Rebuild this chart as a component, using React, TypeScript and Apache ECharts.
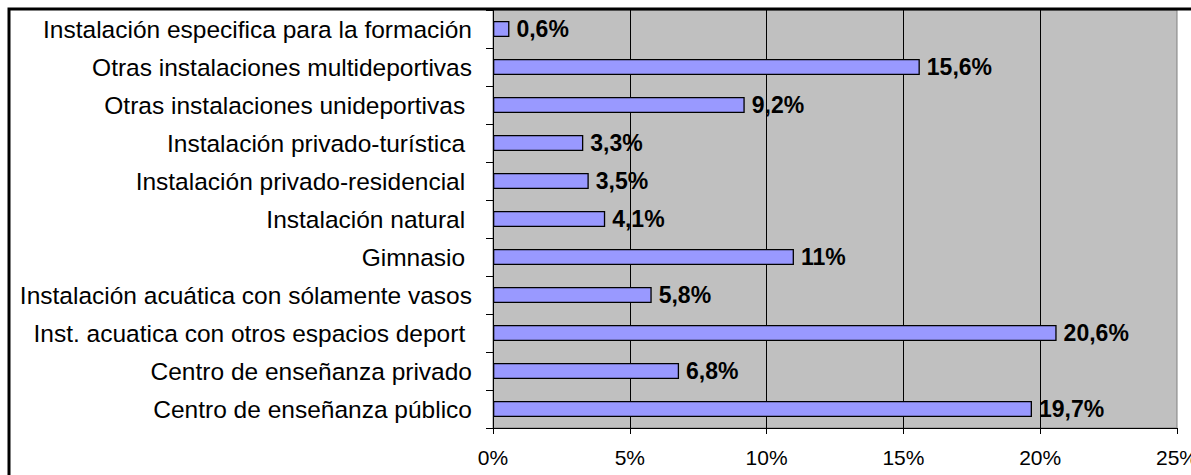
import React, { useEffect, useRef } from "react";
import * as echarts from "echarts";

const categories: string[] = [
  "Centro de enseñanza público",
  "Centro de enseñanza privado",
  "Inst. acuatica con otros espacios deport ",
  "Instalación acuática con sólamente vasos",
  "Gimnasio ",
  "Instalación natural ",
  "Instalación privado-residencial ",
  "Instalación privado-turística ",
  "Otras instalaciones unideportivas ",
  "Otras instalaciones multideportivas",
  "Instalación especifica para la formación",
];

const values: number[] = [19.7, 6.8, 20.6, 5.8, 11, 4.1, 3.5, 3.3, 9.2, 15.6, 0.6];

const xTicks: number[] = [0, 5, 10, 15, 20, 25];

const FONT = "'Liberation Sans', Arial, Helvetica, sans-serif";

export default function App() {
  const ref = useRef<HTMLDivElement>(null);

  useEffect(() => {
    if (!ref.current) return;
    const chart = echarts.init(ref.current, undefined, { renderer: "svg" });
    chart.setOption({
      animation: false,
      backgroundColor: "#ffffff",
      grid: {
        left: 493,
        top: 10,
        width: 684,
        height: 418,
        containLabel: false,
        outerBoundsMode: "none",
        show: true,
        backgroundColor: "#c0c0c0",
        borderColor: "#808080",
        borderWidth: 1,
      },
      xAxis: {
        type: "value",
        min: xTicks[0],
        max: xTicks[xTicks.length - 1],
        interval: 5,
        axisLine: { show: true, lineStyle: { color: "#000", width: 1 } },
        axisTick: { show: true, length: 6, lineStyle: { color: "#000" } },
        axisLabel: {
          margin: 19,
          fontFamily: FONT,
          fontSize: 21,
          color: "#000",
          hideOverlap: false,
          formatter: (v: number) => `${v}%`,
        },
        splitLine: {
          show: true,
          showMinLine: false,
          showMaxLine: false,
          lineStyle: { color: "#000", width: 1 },
        },
      },
      yAxis: {
        type: "category",
        data: categories,
        axisLine: { show: true, lineStyle: { color: "#000", width: 1 } },
        axisTick: { show: true, length: 7, lineStyle: { color: "#000" } },
        axisLabel: {
          margin: 21,
          fontFamily: FONT,
          fontSize: 24.5,
          color: "#000",
        },
        splitLine: { show: false },
      },
      series: [
        {
          type: "bar",
          data: values,
          barWidth: 16,
          itemStyle: {
            color: "#9999ff",
            borderColor: "#000",
            borderWidth: 1.3,
          },
          label: {
            show: true,
            position: "right",
            distance: 7,
            fontFamily: FONT,
            fontSize: 23,
            fontWeight: "bold",
            color: "#000",
            formatter: (p: any) => `${String(p.value).replace(".", ",")}%`,
          },
        },
      ],
      graphic: [
        {
          type: "rect",
          shape: { x: 9, y: 9, width: 1400, height: 700 },
          style: { fill: "none", stroke: "#000", lineWidth: 3 },
          silent: true,
          z: 100,
        },
      ],
    });
    return () => chart.dispose();
  }, []);

  return (
    <div
      ref={ref}
      style={{ position: "absolute", left: 0, top: 0, width: 1191, height: 475, background: "#fff" }}
    />
  );
}
